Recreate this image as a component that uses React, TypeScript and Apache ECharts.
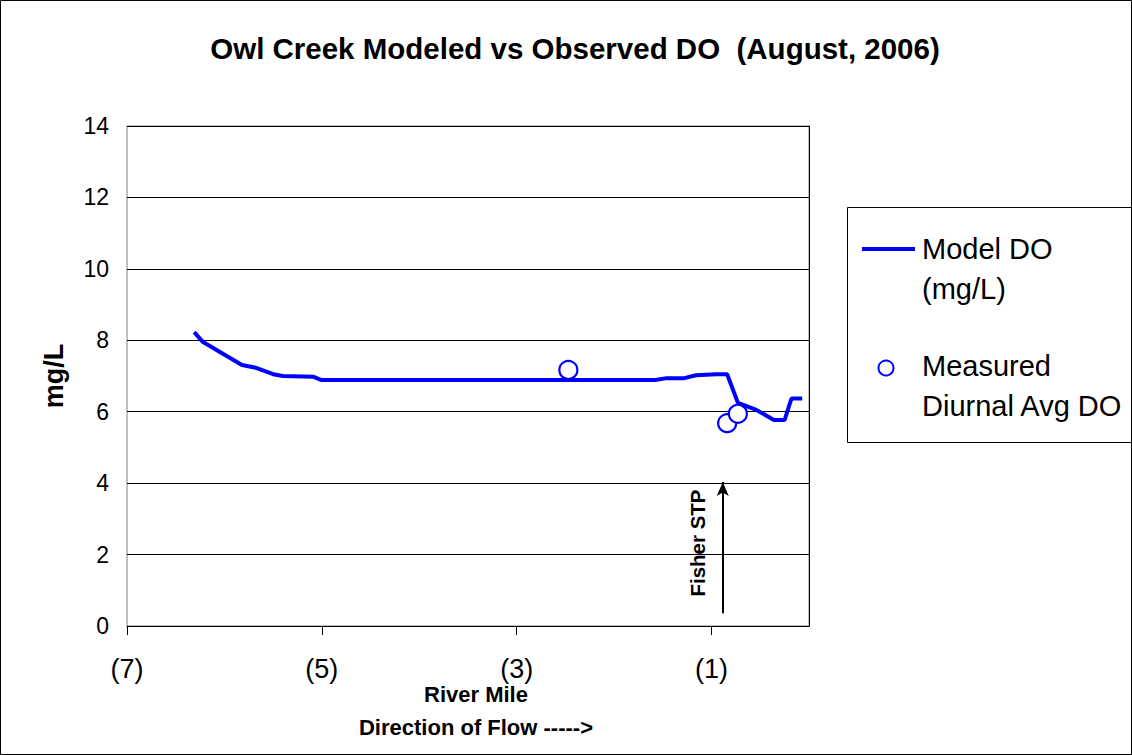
import React, { useEffect, useRef } from "react";
import * as echarts from "echarts";

// Model DO line (river mile as negative, mg/L)
const modelMiles = [-6.31, -6.22, -5.82, -5.69, -5.5, -5.4, -5.09, -5.01, -4.0, -3.0, -2.0, -1.58, -1.46, -1.28, -1.16, -0.95, -0.84, -0.73, -0.54, -0.36, -0.25, -0.18, -0.07];
const modelDO = [8.23, 7.95, 7.31, 7.24, 7.05, 7.0, 6.98, 6.89, 6.89, 6.89, 6.89, 6.89, 6.94, 6.94, 7.02, 7.05, 7.05, 6.25, 6.05, 5.77, 5.77, 6.37, 6.37];

// Measured diurnal average DO
const measMiles = [-2.47, -0.84, -0.73];
const measDO = [7.17, 5.68, 5.94];

// Axis ticks
const xTickValues = [-7, -5, -3, -1];
const yTicks = [0, 2, 4, 6, 8, 10, 12, 14];

// Fisher STP arrow (river mile, from/to mg/L)
const stpMile = -0.885;
const stpFrom = 0.36;
const stpTo = 4.03;

const FONT = "'Liberation Sans', Arial, sans-serif";
const BLUE = "#0000FF";

export default function App() {
  const ref = useRef<HTMLDivElement>(null);
  useEffect(() => {
    document.body.style.margin = "0";
    const chart = echarts.init(ref.current!, null, { renderer: "svg" });
    const lineData = modelMiles.map((m, i) => [m, modelDO[i]]);
    const measData = measMiles.map((m, i) => [m, measDO[i]]);
    chart.setOption({
      animation: false,
      backgroundColor: "#fff",
      textStyle: { fontFamily: FONT },
      title: {
        text: "Owl Creek Modeled vs Observed DO  (August, 2006)",
        left: 575,
        top: 33,
        padding: 0,
        textAlign: "center",
        textStyle: { fontFamily: FONT, fontWeight: "bold", fontSize: 29.5, color: "#000" },
      },
      grid: {
        left: 127,
        top: 126,
        right: 1132 - 809,
        bottom: 755 - 626,
        show: true,
        borderColor: "#808080",
        borderWidth: 1,
      },
      xAxis: {
        type: "value",
        min: -7,
        max: 0,
        interval: 1,
        axisLine: { show: true, onZero: false, lineStyle: { color: "#000", width: 1 } },
        axisTick: { show: true, length: 9, inside: false, customValues: xTickValues, lineStyle: { color: "#000" } },
        axisLabel: {
          margin: 29,
          fontSize: 27,
          lineHeight: 27,
          fontFamily: FONT,
          color: "#000",
          showMaxLabel: false,
          formatter: (v: number) => (xTickValues.indexOf(v) >= 0 ? `(${Math.abs(v)})` : ""),
        },
        splitLine: { show: false },
      },
      yAxis: {
        type: "value",
        min: 0,
        max: 14,
        interval: 2,
        name: "mg/L",
        nameLocation: "middle",
        nameGap: 60,
        nameTextStyle: { fontFamily: FONT, fontWeight: "bold", fontSize: 27, color: "#000" },
        axisLine: { show: true, lineStyle: { color: "#000", width: 1 } },
        axisTick: { show: true, length: 6, lineStyle: { color: "#000" } },
        axisLabel: { margin: 18, fontSize: 23, fontFamily: FONT, color: "#000" },
        splitLine: { show: true, lineStyle: { color: "#000", width: 1 } },
      },
      series: [
        {
          name: "Model DO (mg/L)",
          type: "line",
          data: lineData,
          symbol: "none",
          lineStyle: { color: BLUE, width: 4 },
          z: 3,
          markLine: {
            silent: true,
            symbol: ["none", "arrow"],
            symbolSize: [9, 14],
            label: { show: false },
            lineStyle: { color: "#000", width: 2, type: "solid" },
            data: [[{ coord: [stpMile, stpFrom] }, { coord: [stpMile, stpTo] }]],
          },
        },
        {
          name: "Measured Diurnal Avg DO",
          type: "scatter",
          data: measData,
          symbol: "circle",
          symbolSize: 18,
          itemStyle: { color: "#fff", borderColor: BLUE, borderWidth: 2.2, opacity: 1 },
          z: 4,
        },
      ],
      graphic: [
        {
          type: "rect",
          shape: { x: 0.5, y: 0.5, width: 1131, height: 754 },
          style: { fill: "none", stroke: "#000", lineWidth: 1 },
          silent: true,
          z: 100,
        },
        {
          type: "text",
          x: 697,
          y: 543,
          rotation: Math.PI / 2,
          style: {
            text: "Fisher STP",
            fontFamily: FONT,
            fontWeight: "bold",
            fontSize: 20.5,
            fill: "#000",
            align: "center",
            verticalAlign: "middle",
          },
        },
        {
          type: "text",
          x: 476,
          y: 694,
          style: { text: "River Mile", fontFamily: FONT, fontWeight: "bold", fontSize: 22, lineHeight: 22, fill: "#000", align: "center", verticalAlign: "middle" },
        },
        {
          type: "text",
          x: 476,
          y: 727,
          style: { text: "Direction of Flow ----->", fontFamily: FONT, fontWeight: "bold", fontSize: 22, fill: "#000", align: "center", verticalAlign: "middle" },
        },
        {
          type: "rect",
          shape: { x: 847.5, y: 207.5, width: 284, height: 235 },
          style: { fill: "#fff", stroke: "#000", lineWidth: 1 },
          z: 50,
        },
        {
          type: "line",
          shape: { x1: 862, y1: 249, x2: 915, y2: 249 },
          style: { stroke: BLUE, lineWidth: 4 },
          z: 51,
        },
        {
          type: "circle",
          shape: { cx: 886, cy: 368, r: 7.5 },
          style: { fill: "#fff", stroke: BLUE, lineWidth: 2 },
          z: 51,
        },
        {
          type: "text",
          x: 922,
          y: 249,
          z: 51,
          style: { text: "Model DO", fontFamily: FONT, fontSize: 29, fill: "#000", verticalAlign: "middle" },
        },
        {
          type: "text",
          x: 922,
          y: 289,
          z: 51,
          style: { text: "(mg/L)", fontFamily: FONT, fontSize: 29, fill: "#000", verticalAlign: "middle" },
        },
        {
          type: "text",
          x: 922,
          y: 366,
          z: 51,
          style: { text: "Measured", fontFamily: FONT, fontSize: 29, fill: "#000", verticalAlign: "middle" },
        },
        {
          type: "text",
          x: 922,
          y: 406,
          z: 51,
          style: { text: "Diurnal Avg DO", fontFamily: FONT, fontSize: 29, fill: "#000", verticalAlign: "middle" },
        },
      ],
    });
    return () => chart.dispose();
  }, []);
  return <div ref={ref} style={{ width: 1132, height: 755 }} />;
}
